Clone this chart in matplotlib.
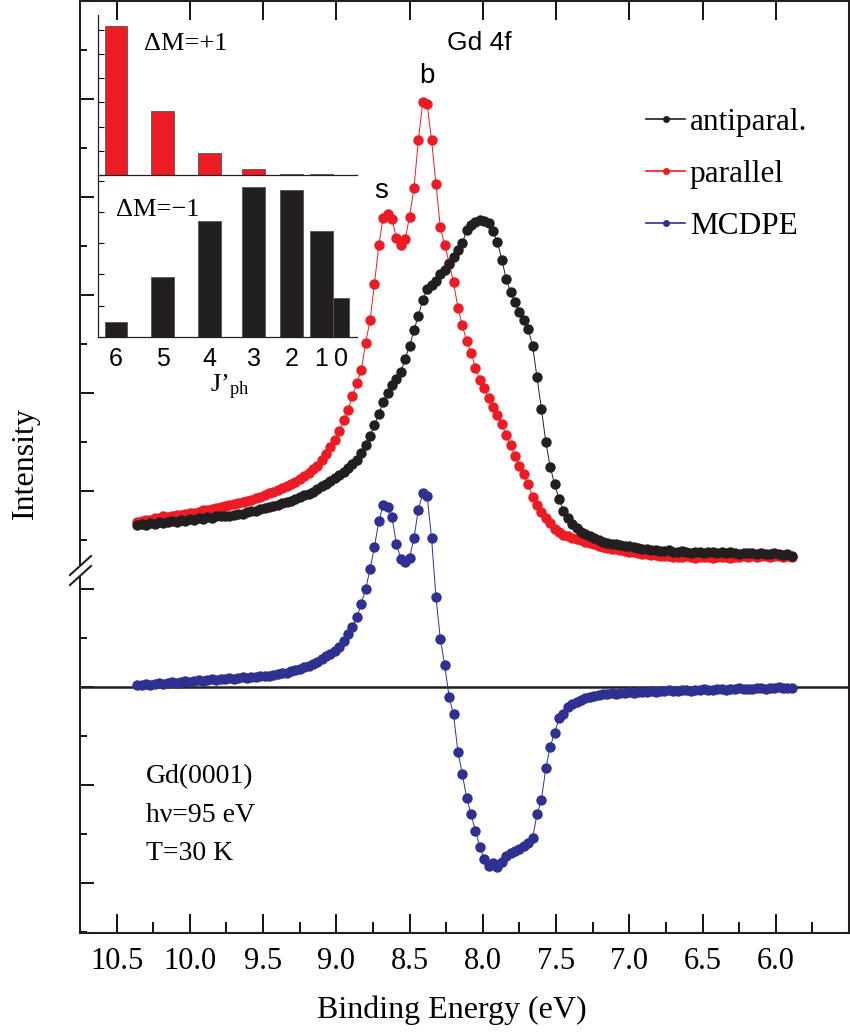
import numpy as np
import matplotlib.pyplot as plt
from matplotlib.lines import Line2D
from matplotlib.patches import Rectangle
from matplotlib.ticker import FixedLocator, MultipleLocator, FormatStrFormatter

plt.rcParams['font.family'] = ['Liberation Serif', 'DejaVu Serif']
plt.rcParams['mathtext.fontset'] = 'custom'
plt.rcParams['mathtext.rm'] = 'Liberation Serif'
plt.rcParams['mathtext.it'] = 'Liberation Serif:italic'

W, H = 850, 1032

# pixel -> figure fraction helpers
def fx(px):
    return px / W

def fy(py):
    return 1 - py / H

# measured binding energy grid (eV)
energy = np.round(np.linspace(10.36, 5.89, 150), 2)

antiparallel = [
    1.65, 1.66, 1.65, 1.67, 1.66, 1.68, 1.67, 1.68, 1.69, 1.68,
    1.70, 1.69, 1.71, 1.70, 1.72, 1.71, 1.73, 1.72, 1.74, 1.74,
    1.75, 1.75, 1.76, 1.77, 1.77, 1.79, 1.80, 1.80, 1.82, 1.83,
    1.84, 1.85, 1.86, 1.88, 1.89, 1.90, 1.92, 1.94, 1.96, 1.97,
    1.99, 2.02, 2.05, 2.07, 2.10, 2.13, 2.16, 2.19, 2.23, 2.28,
    2.32, 2.39, 2.47, 2.56, 2.67, 2.79, 2.91, 3.00, 3.08, 3.14,
    3.21, 3.35, 3.48, 3.64, 3.79, 3.95, 4.06, 4.10, 4.14, 4.21,
    4.26, 4.32, 4.39, 4.46, 4.53, 4.66, 4.71, 4.75, 4.77, 4.76,
    4.73, 4.65, 4.54, 4.36, 4.16, 4.03, 3.93, 3.83, 3.75, 3.65,
    3.48, 3.16, 2.84, 2.50, 2.25, 2.07, 1.92, 1.80, 1.72, 1.66,
    1.62, 1.58, 1.56, 1.54, 1.52, 1.50, 1.48, 1.47, 1.46, 1.46,
    1.45, 1.44, 1.44, 1.43, 1.42, 1.41, 1.41, 1.40, 1.40, 1.39,
    1.39, 1.40, 1.38, 1.38, 1.39, 1.38, 1.37, 1.38, 1.38, 1.37,
    1.38, 1.38, 1.37, 1.38, 1.37, 1.38, 1.37, 1.36, 1.37, 1.37,
    1.37, 1.36, 1.37, 1.36, 1.36, 1.37, 1.36, 1.35, 1.36, 1.34]

parallel = [
    1.68, 1.69, 1.70, 1.70, 1.72, 1.72, 1.74, 1.73, 1.75, 1.76,
    1.76, 1.77, 1.78, 1.78, 1.79, 1.81, 1.81, 1.82, 1.83, 1.84,
    1.85, 1.86, 1.87, 1.88, 1.89, 1.90, 1.91, 1.93, 1.94, 1.96,
    1.98, 1.99, 2.01, 2.03, 2.05, 2.07, 2.09, 2.12, 2.15, 2.18,
    2.22, 2.26, 2.32, 2.38, 2.45, 2.52, 2.61, 2.72, 2.83, 2.97,
    3.10, 3.23, 3.51, 3.74, 4.11, 4.51, 4.79, 4.83, 4.78, 4.58,
    4.51, 4.57, 4.80, 5.09, 5.58, 5.97, 5.95, 5.58, 5.13, 4.69,
    4.51, 4.33, 4.13, 3.87, 3.69, 3.53, 3.41, 3.26, 3.13, 3.05,
    2.95, 2.86, 2.78, 2.68, 2.57, 2.47, 2.36, 2.26, 2.17, 2.07,
    1.94, 1.86, 1.79, 1.72, 1.67, 1.61, 1.58, 1.55, 1.54, 1.52,
    1.51, 1.50, 1.48, 1.47, 1.46, 1.44, 1.43, 1.42, 1.41, 1.41,
    1.40, 1.39, 1.38, 1.38, 1.37, 1.36, 1.36, 1.35, 1.35, 1.34,
    1.34, 1.34, 1.33, 1.33, 1.33, 1.34, 1.33, 1.32, 1.33, 1.33,
    1.33, 1.32, 1.33, 1.33, 1.33, 1.32, 1.33, 1.33, 1.34, 1.33,
    1.34, 1.33, 1.34, 1.34, 1.33, 1.34, 1.34, 1.33, 1.34, 1.33]

mcdpe = [
    0.02, 0.02, 0.03, 0.02, 0.03, 0.04, 0.03, 0.04, 0.05, 0.04,
    0.05, 0.06, 0.05, 0.06, 0.07, 0.06, 0.07, 0.08, 0.07, 0.08,
    0.08, 0.09, 0.08, 0.09, 0.10, 0.09, 0.10, 0.10, 0.11, 0.11,
    0.11, 0.12, 0.13, 0.14, 0.14, 0.16, 0.17, 0.18, 0.20, 0.21,
    0.23, 0.26, 0.29, 0.32, 0.34, 0.37, 0.41, 0.47, 0.54, 0.61,
    0.71, 0.85, 1.00, 1.20, 1.43, 1.69, 1.86, 1.84, 1.73, 1.46,
    1.31, 1.28, 1.32, 1.52, 1.81, 1.98, 1.95, 1.52, 0.92, 0.49,
    0.22, -0.10, -0.28, -0.66, -0.89, -1.13, -1.30, -1.47, -1.63, -1.76,
    -1.83, -1.80, -1.84, -1.79, -1.72, -1.69, -1.67, -1.65, -1.62, -1.59,
    -1.54, -1.30, -1.15, -0.83, -0.61, -0.47, -0.32, -0.28, -0.20, -0.17,
    -0.15, -0.13, -0.11, -0.10, -0.09, -0.08, -0.07, -0.07, -0.06, -0.07,
    -0.06, -0.06, -0.05, -0.06, -0.05, -0.05, -0.05, -0.04, -0.05, -0.04,
    -0.04, -0.03, -0.04, -0.04, -0.03, -0.03, -0.04, -0.03, -0.03, -0.02,
    -0.03, -0.03, -0.02, -0.02, -0.03, -0.02, -0.02, -0.01, -0.02, -0.02,
    -0.02, -0.01, -0.01, -0.02, -0.01, -0.01, 0.00, -0.01, -0.01, -0.01]

# inset: final state multiplet J'ph, energy offset (eV) and weights
j_labels = ['6', '5', '4', '3', '2', '1', '0']
j_energy = [0.620, 0.492, 0.363, 0.241, 0.137, 0.054, 0.0]
dm_plus = [6.16, 2.64, 0.91, 0.25, 0.05, 0.03, 0.02]
dm_minus = [0.48, 1.92, 3.71, 4.79, 4.70, 3.39, 1.25]

x_ticks = [10.5, 10.0, 9.5, 9.0, 8.5, 8.0, 7.5, 7.0, 6.5, 6.0]

RED = '#ED1C24'
BLACK = '#231F20'
BLUE = '#2E3192'

fig = plt.figure(figsize=(W / 100, H / 100), dpi=100)
ax = fig.add_axes([fx(80), fy(933), (849 - 80) / W, (933 - 1) / H])

ax.plot(energy, parallel, '-o', color=RED, lw=0.7, ms=7.5, mew=0, zorder=3)
ax.plot(energy, antiparallel, '-o', color=BLACK, lw=0.7, ms=7.5, mew=0, zorder=4)
ax.plot(energy, mcdpe, '-o', color=BLUE, lw=0.7, ms=7.5, mew=0, zorder=4)
ax.axhline(0, color=BLACK, lw=1.8, zorder=2)

ax.set_xlim(10.75, 5.5)
ax.set_ylim(-2.51, 7.0)
ax.xaxis.set_major_locator(FixedLocator(x_ticks))
ax.xaxis.set_minor_locator(FixedLocator([x - 0.25 for x in x_ticks]))
ax.xaxis.set_major_formatter(FormatStrFormatter('%.1f'))
ax.yaxis.set_major_locator(MultipleLocator(1))
ax.yaxis.set_minor_locator(MultipleLocator(0.5))
ax.tick_params(axis='x', which='major', direction='in', length=14, width=1.3,
               top=True, labelsize=22, pad=10)
ax.tick_params(axis='x', which='minor', direction='in', length=8, width=1.3)
ax.tick_params(axis='y', which='major', direction='in', length=10, width=1.3,
               labelleft=False)
ax.tick_params(axis='y', which='minor', direction='in', length=5, width=1.3)
for s in ax.spines.values():
    s.set_linewidth(1.5)
    s.set_color(BLACK)

handles = [Line2D([], [], color=c, marker='o', ms=5, mew=0, lw=1.2)
           for c in (BLACK, RED, BLUE)]
ax.legend(handles, ['antiparal.', 'parallel', 'MCDPE'], loc='upper left',
          bbox_to_anchor=(fx(646), fy(108)), bbox_transform=fig.transFigure,
          frameon=False, fontsize=22.5, handlelength=1.25, handletextpad=0.15,
          labelspacing=0.74, borderpad=0, borderaxespad=0)

# inset bar charts
ins_top = fig.add_axes([fx(98), fy(175), (357 - 98) / W, (175 - 15) / H])
ins_bot = fig.add_axes([fx(98), fy(337), (357 - 98) / W, (337 - 175) / H])
widths = [0.0616] * 6 + [0.046]
ins_top.bar(j_energy, dm_plus, width=widths, color=RED, edgecolor='#555555', lw=0.6)
ins_bot.bar(j_energy, dm_minus, width=widths, color=BLACK, edgecolor='#555555', lw=0.6)
for a, top in ((ins_top, 6.61), (ins_bot, 5.18)):
    a.set_xlim(0.670, -0.044)
    a.set_ylim(0, top)
    a.spines[['top', 'right']].set_visible(False)
    for s in ('left', 'bottom'):
        a.spines[s].set_linewidth(0.9)
        a.spines[s].set_color(BLACK)
    a.yaxis.set_major_locator(MultipleLocator(1))
    a.tick_params(axis='y', direction='in', length=4, width=0.8, labelleft=False)
    a.patch.set_alpha(0)
ins_top.set_xticks([])
ins_bot.set_xticks(j_energy, j_labels)
ins_bot.tick_params(axis='x', length=0, labelsize=18, pad=7,
                    labelfontfamily='Liberation Sans')

fig.text(fx(186), fy(44), 'ΔM=+1', ha='center', va='center', fontsize=19)
fig.text(fx(158), fy(210), 'ΔM=−1', ha='center', va='center', fontsize=19)
fig.text(fx(230), fy(387), 'J’$_{\\mathrm{ph}}$', ha='center', va='center', fontsize=19)

# annotations
fig.text(fx(479), fy(43), 'Gd 4f', ha='center', va='center', fontsize=19,
         family='Liberation Sans')
fig.text(fx(381), fy(191), 's', ha='center', va='center', fontsize=20,
         family='Liberation Sans')
fig.text(fx(427), fy(76), 'b', ha='center', va='center', fontsize=20,
         family='Liberation Sans')
fig.text(fx(146), fy(777), 'Gd(0001)', ha='left', va='center', fontsize=20)
fig.text(fx(146), fy(815), 'hν=95 eV', ha='left', va='center', fontsize=20)
fig.text(fx(146), fy(853), 'T=30 K', ha='left', va='center', fontsize=20)

fig.text(fx(452), fy(1018), 'Binding Energy (eV)', ha='center', va='baseline', fontsize=23)
fig.text(fx(25), fy(463), 'Intensity', rotation=90, ha='center', va='center', fontsize=23)

# axis break marks
fig.add_artist(Rectangle((fx(76), fy(576)), 8 / W, 11 / H, transform=fig.transFigure,
                         facecolor='white', edgecolor='none', zorder=10))
for dy in (0, 10):
    fig.add_artist(Line2D([fx(70), fx(91)], [fy(575 + dy), fy(556 + dy)],
                          color=BLACK, lw=1.5, zorder=11))

fig.savefig('out.png', dpi=100)
